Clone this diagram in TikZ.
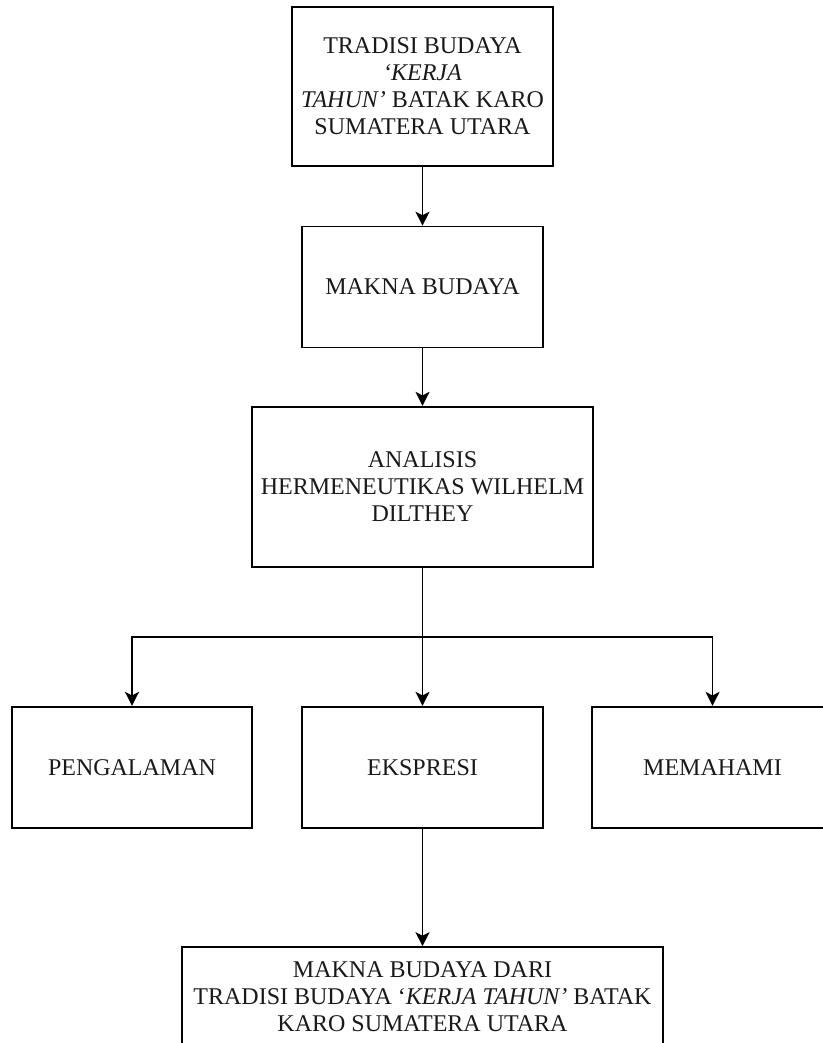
\documentclass[tikz,border=0pt]{standalone}
\usepackage{fontspec}
\setmainfont{Liberation Serif}
\usetikzlibrary{arrows.meta}

\begin{document}
\begin{tikzpicture}[x=1pt,y=-1pt,
  kotak/.style={draw=black,line width=1.6pt,align=center,inner sep=2pt,
    font=\fontsize{24}{27}\selectfont,text=black!90},
  panah/.style={line width=1.6pt,-{Stealth[length=14pt,width=14pt,inset=3.5pt]}},
  garis/.style={line width=1.6pt}]
\useasboundingbox (0,0) rectangle (822,1043);

% Draw main flow
\node[kotak,minimum width=261,minimum height=159] (tradisi) at (422.5,86.5)
  {TRADISI BUDAYA\\\textit{‘KERJA}\\\textit{TAHUN’} BATAK KARO\\SUMATERA UTARA};
\node[kotak,minimum width=241,minimum height=121] (makna) at (422.5,287) {MAKNA BUDAYA};
\node[kotak,minimum width=341,minimum height=160] (analisis) at (422.5,486.7)
  {ANALISIS\\HERMENEUTIKAS WILHELM\\DILTHEY};

% Draw the three aspects
\node[kotak,minimum width=240,minimum height=121] (pengalaman) at (132,767.2) {PENGALAMAN};
\node[kotak,minimum width=241,minimum height=121] (ekspresi) at (422.5,767.2) {EKSPRESI};
\node[kotak,minimum width=241,minimum height=121] (memahami) at (712.5,767.2) {MEMAHAMI};

% Draw result
\node[kotak,minimum width=481,minimum height=100] (hasil) at (422.5,997)
  {MAKNA BUDAYA DARI\\TRADISI BUDAYA ‘\textit{KERJA TAHUN’} BATAK\\KARO SUMATERA UTARA};

% Draw arrows
\coordinate (cabang) at (422.5,637);
\draw[panah] (tradisi) -- (makna);
\draw[panah] (makna) -- (analisis);
\draw[garis] (analisis) -- (cabang);
\draw[panah] (cabang) -- (ekspresi);
\draw[panah] (cabang) -| (pengalaman);
\draw[panah] (cabang) -| (memahami);
\draw[panah] (ekspresi) -- (hasil);
\end{tikzpicture}
\end{document}
